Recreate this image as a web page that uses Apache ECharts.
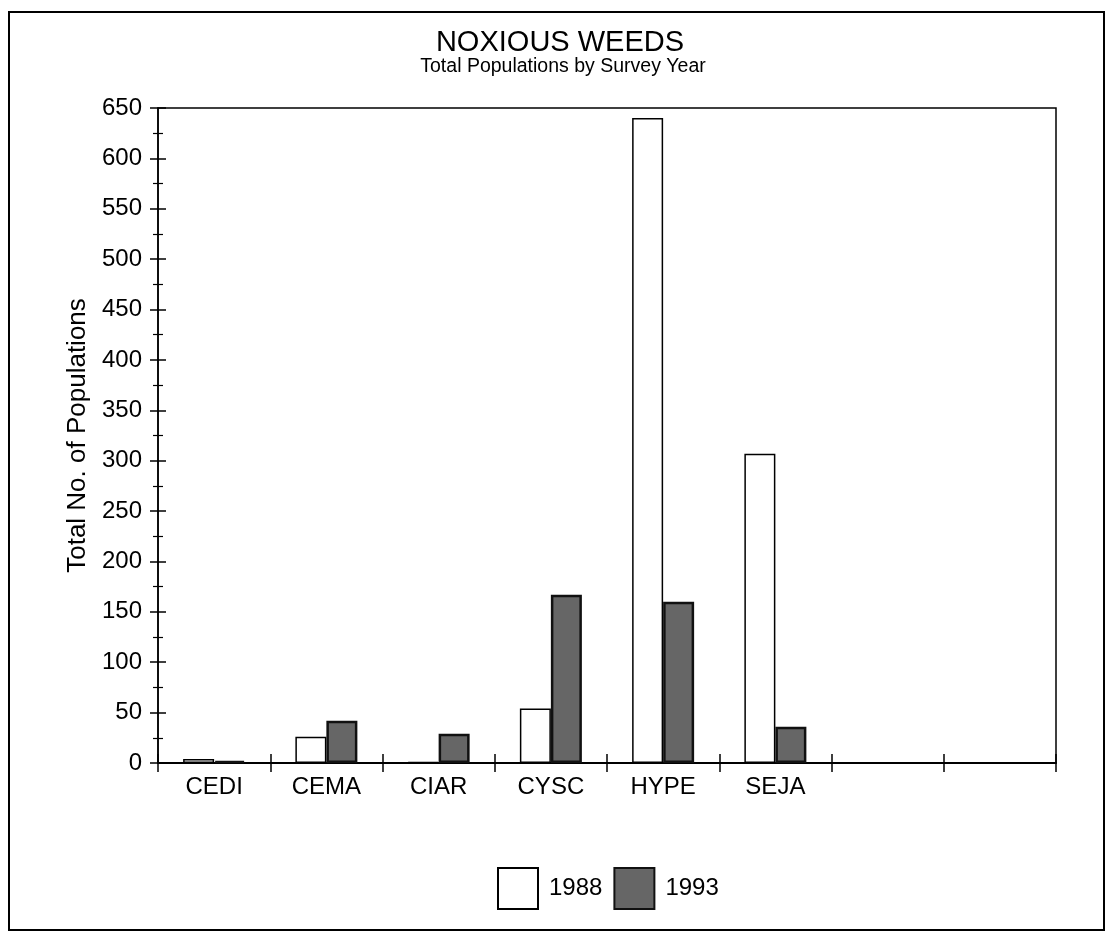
<!DOCTYPE html>
<html>
<head>
<meta charset="utf-8">
<script src="https://cdn.jsdelivr.net/npm/echarts@6/dist/echarts.min.js"></script>
<style>
  html, body { margin: 0; padding: 0; background: #fff; }
  #chart { width: 1107px; height: 933px; }
</style>
</head>
<body>
<div id="chart"></div>
<script>
var categories = ['CEDI', 'CEMA', 'CIAR', 'CYSC', 'HYPE', 'SEJA', '', ''];
var values1988 = [4, 26, 1, 54, 640, 307, null, null];
var values1993 = [2, 42, 29, 167, 160, 36, null, null];
var seriesNames = ['1988', '1993'];
var titleText = 'NOXIOUS WEEDS';
var subtitleText = 'Total Populations by Survey Year';
var yMin = 0, yMax = 650, yInterval = 50;

var FONT = '"Liberation Sans", Arial, sans-serif';
var chart = echarts.init(document.getElementById('chart'), null, { renderer: 'canvas' });

var option = {
  backgroundColor: '#fff',
  animation: false,
  legend: {
    data: seriesNames,
    left: 497,
    top: 867,
    padding: 0,
    icon: 'rect',
    itemWidth: 40,
    itemHeight: 41,
    itemGap: 11,
    textStyle: { fontFamily: FONT, fontSize: 24, color: '#000', padding: [0, 0, 0, 6] }
  },
  grid: {
    left: 158, right: 51, top: 108, bottom: 170,
    show: true, borderColor: '#000', borderWidth: 1.5, backgroundColor: 'transparent',
    containLabel: false
  },
  xAxis: [
    {
      type: 'category', data: categories, position: 'bottom',
      axisLine: { show: true, lineStyle: { color: '#000', width: 2 } },
      axisTick: { show: true, length: 9, lineStyle: { color: '#000', width: 1.5 } },
      axisLabel: { fontFamily: FONT, fontSize: 24, color: '#000', margin: 12 }
    },
    {
      type: 'category', data: categories, position: 'bottom',
      axisLine: { show: false },
      axisTick: { show: true, inside: true, length: 9, lineStyle: { color: '#000', width: 1.5 } },
      axisLabel: { show: false }
    }
  ],
  yAxis: [
    {
      type: 'value', min: yMin, max: yMax, interval: yInterval, position: 'left',
      name: 'Total No. of Populations',
      nameLocation: 'middle',
      nameGap: 61,
      nameTextStyle: { fontFamily: FONT, fontSize: 26, color: '#000' },
      axisLine: { show: true, lineStyle: { color: '#000', width: 1.5 } },
      splitLine: { show: false },
      axisTick: { show: true, length: 8, lineStyle: { color: '#000', width: 1.5 } },
      minorTick: { show: true, splitNumber: 2, length: 5, lineStyle: { color: '#000', width: 1.2 } },
      axisLabel: { fontFamily: FONT, fontSize: 24, color: '#000', margin: 16 }
    },
    {
      type: 'value', min: yMin, max: yMax, interval: yInterval, position: 'left', offset: 0,
      axisLine: { show: false },
      splitLine: { show: false },
      axisTick: { show: true, inside: true, length: 8, lineStyle: { color: '#000', width: 1.5 } },
      minorTick: { show: true, splitNumber: 2, length: 5, lineStyle: { color: '#000', width: 1.2 } },
      axisLabel: { show: false }
    }
  ],
  series: [
    {
      name: seriesNames[0], type: 'bar', data: values1988,
      xAxisIndex: 0, yAxisIndex: 0,
      barWidth: 31, barGap: '0%',
      itemStyle: { color: '#ffffff', borderColor: '#000', borderWidth: 1.5 }
    },
    {
      name: seriesNames[1], type: 'bar', data: values1993,
      xAxisIndex: 0, yAxisIndex: 0,
      barWidth: 31, barGap: '0%',
      itemStyle: { color: '#666666', borderColor: '#111', borderWidth: 2.5 }
    },
    {
      name: 'tickHelper', type: 'line', data: [],
      xAxisIndex: 1, yAxisIndex: 1,
      showSymbol: false, silent: true, legendHoverLink: false
    }
  ],
  graphic: [
    {
      type: 'text', silent: true, x: 560, y: 43,
      style: { text: titleText, font: '29px ' + FONT, fill: '#000', align: 'center', verticalAlign: 'middle' }
    },
    {
      type: 'text', silent: true, x: 563, y: 67,
      style: { text: subtitleText, font: '19.5px ' + FONT, fill: '#000', align: 'center', verticalAlign: 'middle' }
    },
    {
      type: 'rect', silent: true, z: 100,
      shape: { x: 9, y: 12, width: 1095, height: 918 },
      style: { fill: 'none', stroke: '#000', lineWidth: 2 }
    }
  ]
};
chart.setOption(option);
</script>
</body>
</html>
